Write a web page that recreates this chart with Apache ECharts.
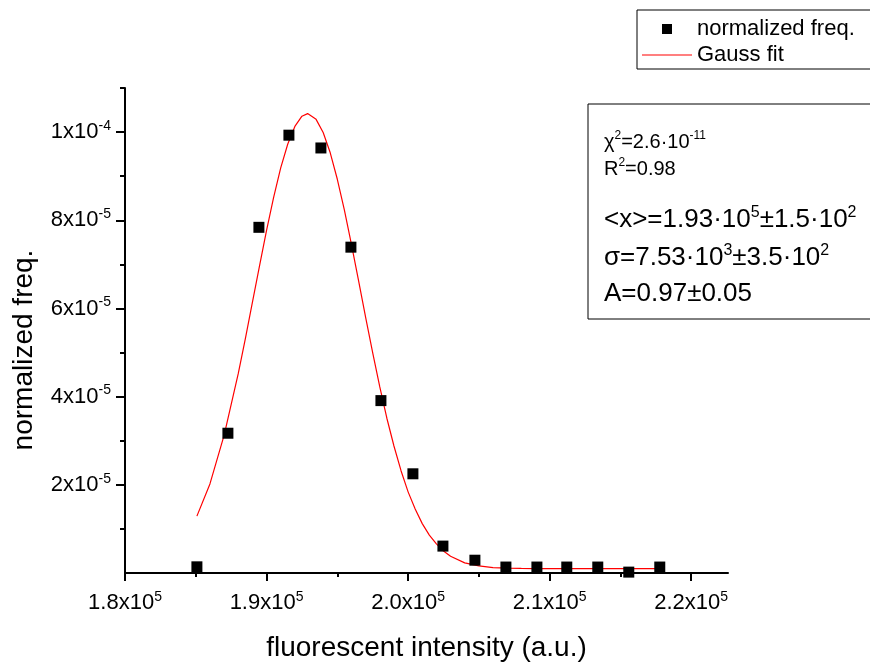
<!DOCTYPE html>
<html><head><meta charset="utf-8">
<script src="https://cdn.jsdelivr.net/npm/echarts@6/dist/echarts.min.js"></script>
<style>html,body{margin:0;padding:0;background:#fff}#c{width:870px;height:667px}</style>
</head><body><div id="c"></div>
<script>
// ---- data ----
const xValues = [185080, 187270, 189460, 191580, 193840, 195960, 198080, 200340, 202460, 204720, 206910, 209100, 211210, 213400, 215590, 217780];
const yValues = [1.4e-6, 3.17e-5, 7.84e-5, 9.93e-5, 9.64e-5, 7.39e-5, 3.91e-5, 2.25e-5, 6.1e-6, 2.9e-6, 1.35e-6, 1.35e-6, 1.35e-6, 1.35e-6, 2e-7, 1.35e-6];
const fitX = [185080, 186000, 187000, 188000, 188500, 189000, 189500, 190000, 190500, 191000, 191500, 192000, 192500, 192900, 193000, 193500, 194000, 194500, 195000, 195500, 196000, 196500, 197000, 197500, 198000, 198500, 199000, 199500, 200000, 200500, 201000, 201500, 202000, 202500, 203000, 204000, 205000, 206000, 207000, 208000, 209000, 210000, 212000, 214000, 216000, 217780];
const fitY = [1.29e-5, 2.02e-5, 3.12e-5, 4.52e-5, 5.31e-5, 6.14e-5, 6.96e-5, 7.77e-5, 8.52e-5, 9.19e-5, 9.73e-5, 1.0128e-4, 1.0361e-4, 1.0419e-4, 1.0415e-4, 1.0289e-4, 9.99e-5, 9.53e-5, 8.93e-5, 8.23e-5, 7.45e-5, 6.63e-5, 5.80e-5, 4.99e-5, 4.22e-5, 3.51e-5, 2.88e-5, 2.32e-5, 1.84e-5, 1.45e-5, 1.12e-5, 8.6e-6, 6.6e-6, 5.0e-6, 3.8e-6, 2.3e-6, 1.6e-6, 1.24e-6, 1.09e-6, 1.03e-6, 1.01e-6, 1.0e-6, 1.0e-6, 1.0e-6, 1.0e-6, 1.0e-6];
const xMajorTicks = [180000, 190000, 200000, 210000, 220000];
const xMinorTicks = [185000, 195000, 205000, 215000];
const xTickLabels = ['1.8x10^5', '1.9x10^5', '2.0x10^5', '2.1x10^5', '2.2x10^5'];
const yMajorTicks = [2e-5, 4e-5, 6e-5, 8e-5, 1e-4];
const yMinorTicks = [1e-5, 3e-5, 5e-5, 7e-5, 9e-5, 1.1e-4];
const yTickLabels = ['2x10^-5', '4x10^-5', '6x10^-5', '8x10^-5', '1x10^-4'];
const seriesNames = ['normalized freq.', 'Gauss fit'];
const xTitle = 'fluorescent intensity (a.u.)';
const yTitle = 'normalized freq.';
const fitText = [
  ['χ', '2', '=2.6·10', '-11'],
  ['R', '2', '=0.98'],
  ['<x>=1.93·10', '5', '±1.5·10', '2'],
  ['σ=7.53·10', '3', '±3.5·10', '2'],
  ['A=0.97±0.05']
];

const FONT = 'Liberation Sans, Arial, sans-serif';
function supLabel(ticks, labels) {
  return function (v) {
    for (let i = 0; i < ticks.length; i++) {
      if (Math.abs(v - ticks[i]) <= Math.abs(ticks[i]) * 1e-6) {
        const p = labels[i].split('^');
        return '{m|' + p[0] + '}{s|' + p[1] + '}';
      }
    }
    return '';
  };
}
const labelRich = {
  m: { fontSize: 22, fontFamily: FONT, color: '#000', lineHeight: 26 },
  s: { fontSize: 14, fontFamily: FONT, color: '#000', lineHeight: 12, verticalAlign: 'top' }
};
function richLine(parts) {
  let t = '';
  parts.forEach((p, i) => { t += (i % 2 === 0 ? '{m|' : '{s|') + p + '}'; });
  return t;
}
const smallRich = {
  m: { fontSize: 20, fontFamily: FONT, color: '#000', lineHeight: 24 },
  s: { fontSize: 12, fontFamily: FONT, color: '#000', lineHeight: 10, verticalAlign: 'top' }
};
const bigRich = {
  m: { fontSize: 26, fontFamily: FONT, color: '#000', lineHeight: 30 },
  s: { fontSize: 16, fontFamily: FONT, color: '#000', lineHeight: 12, verticalAlign: 'top' }
};
const textYs = [142, 169, 220, 258, 294];

const chart = echarts.init(document.getElementById('c'));
const axisCommon = {
  type: 'value',
  splitLine: { show: false }
};
chart.setOption({
  animation: false,
  backgroundColor: '#fff',
  grid: { left: 125, right: 142, top: 88, bottom: 89 },
  legend: {
    orient: 'vertical', left: 637, top: 10,
    itemWidth: 50, itemHeight: 10, itemGap: 4,
    padding: [8, 20, 3, 5],
    borderColor: '#000', borderWidth: 1,
    textStyle: { fontSize: 22, color: '#000', fontFamily: FONT },
    data: [
      { name: seriesNames[0], icon: 'path://M0,0L10,0L10,10L0,10Z', itemStyle: { color: '#000', opacity: 1 } },
      { name: seriesNames[1], icon: 'path://M0,0L50,0L50,1.2L0,1.2Z', itemStyle: { color: '#ff0000' } }
    ]
  },
  xAxis: [
    Object.assign({}, axisCommon, {
      min: 180000, max: 222600, position: 'bottom',
      axisLine: { show: true, lineStyle: { color: '#000', width: 2 } },
      axisTick: { show: true, customValues: xMajorTicks, length: 8, lineStyle: { color: '#000', width: 2 } },
      axisLabel: { show: true, customValues: xMajorTicks, formatter: supLabel(xMajorTicks, xTickLabels), margin: 17, rich: labelRich },
      name: xTitle, nameLocation: 'middle', nameGap: 61,
      nameTextStyle: { fontSize: 28, color: '#000', fontFamily: FONT }
    }),
    Object.assign({}, axisCommon, {
      min: 180000, max: 222600, position: 'bottom',
      axisLine: { show: false },
      axisTick: { show: true, customValues: xMinorTicks, length: 4, lineStyle: { color: '#000', width: 2 } },
      axisLabel: { show: false }
    })
  ],
  yAxis: [
    Object.assign({}, axisCommon, {
      min: 0, max: 1.1e-4, position: 'left',
      axisLine: { show: true, lineStyle: { color: '#000', width: 2 } },
      axisTick: { show: true, customValues: yMajorTicks, length: 9, lineStyle: { color: '#000', width: 2 } },
      axisLabel: { show: true, customValues: yMajorTicks, formatter: supLabel(yMajorTicks, yTickLabels), margin: 14, rich: labelRich }
    }),
    Object.assign({}, axisCommon, {
      min: 0, max: 1.1e-4, position: 'left',
      axisLine: { show: false },
      axisTick: { show: true, customValues: yMinorTicks, length: 5, lineStyle: { color: '#000', width: 2 } },
      axisLabel: { show: false }
    })
  ],
  series: [
    {
      name: seriesNames[0], type: 'scatter', xAxisIndex: 0, yAxisIndex: 0,
      symbol: 'rect', symbolSize: 11, itemStyle: { color: '#000', opacity: 1 }, z: 3,
      data: xValues.map((x, i) => [x, yValues[i]])
    },
    {
      name: seriesNames[1], type: 'line', xAxisIndex: 0, yAxisIndex: 0,
      symbol: 'none', showSymbol: false, smooth: false,
      lineStyle: { color: '#ff0000', width: 1.2 }, itemStyle: { color: '#ff0000' }, z: 2,
      data: fitX.map((x, i) => [x, fitY[i]])
    }
  ],
  graphic: [
    { type: 'rect', shape: { x: 588, y: 104, width: 300, height: 215 }, style: { fill: 'none', stroke: '#000', lineWidth: 1 } },
    { type: 'text', x: 24, y: 350, rotation: Math.PI / 2,
      style: { text: yTitle, fontSize: 28, fontFamily: FONT, fill: '#000', align: 'center', verticalAlign: 'middle' } }
  ].concat(fitText.map((parts, i) => ({
    type: 'text', x: 604, y: textYs[i],
    style: { text: richLine(parts), rich: i < 2 ? smallRich : bigRich, verticalAlign: 'middle', align: 'left' }
  })))
});
</script></body></html>
